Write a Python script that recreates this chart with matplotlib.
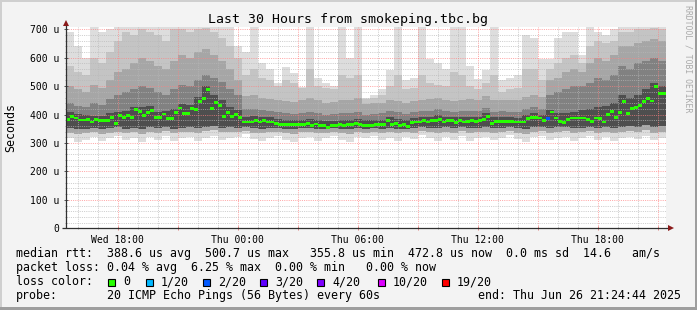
import numpy as np
import matplotlib
matplotlib.use('Agg')
import matplotlib.pyplot as plt
import matplotlib.dates as mdates
from matplotlib.ticker import MultipleLocator, FuncFormatter
from matplotlib.patches import Rectangle
from datetime import datetime

plt.rcParams['font.family'] = 'DejaVu Sans Mono'

# time window
start = datetime(2025, 6, 25, 15, 24, 44)
end = datetime(2025, 6, 26, 21, 24, 44)
med_step_min = 12      # one median step
smoke_step_min = 24    # one smoke column

# median rtt per 12 minute step (microseconds)
median_us = [
    384, 394, 388, 381, 381, 384, 374, 382, 378, 378,
    378, 389, 370, 398, 389, 396, 389, 417, 411, 398,
    408, 414, 391, 391, 402, 386, 386, 406, 423, 403,
    403, 420, 418, 446, 457, 489, 420, 443, 431, 394,
    408, 394, 399, 390, 374, 374, 374, 379, 374, 378,
    374, 374, 370, 366, 366, 366, 365, 365, 366, 366,
    370, 363, 367, 363, 361, 356, 361, 363, 366, 361,
    366, 366, 370, 366, 363, 363, 361, 366, 366, 366,
    379, 366, 370, 363, 366, 357, 371, 374, 374, 378,
    374, 379, 378, 384, 374, 378, 379, 372, 378, 374,
    376, 379, 375, 379, 384, 394, 370, 376, 376, 376,
    376, 376, 374, 374, 374, 385, 390, 390, 388, 379,
    385, 409, 388, 377, 372, 382, 388, 388, 388, 388,
    382, 377, 388, 385, 374, 399, 410, 390, 406, 446,
    405, 421, 424, 431, 445, 458, 448, 500, 473, 473,
]
# steps with packet loss: index -> lost pings of 20
loss_steps = [120]
loss_pings = [2]

# smoke envelopes per 24 minute column (microseconds)
top_us = [
    690, 640, 600, 715, 690, 700, 715, 715, 715, 715,
    715, 715, 715, 715, 715, 715, 715, 715, 715, 715,
    715, 640, 620, 715, 583, 560, 512, 569, 547, 498,
    715, 530, 512, 500, 715, 600, 715, 460, 470, 490,
    558, 715, 523, 530, 715, 594, 580, 560, 715, 715,
    570, 525, 558, 715, 523, 530, 540, 680, 670, 594,
    594, 670, 690, 690, 610, 715, 690, 680, 700, 715,
    715, 715, 715, 715, 715,
]
up2_us = [
    570, 550, 540, 600, 580, 620, 660, 690, 680, 700,
    690, 680, 660, 700, 700, 690, 700, 705, 690, 670,
    640, 600, 540, 560, 530, 520, 500, 520, 510, 495,
    560, 500, 495, 490, 540, 530, 540, 455, 460, 470,
    500, 540, 490, 495, 540, 510, 505, 500, 550, 540,
    500, 490, 510, 540, 480, 490, 495, 560, 560, 520,
    560, 580, 600, 610, 580, 640, 660, 650, 660, 690,
    690, 700, 700, 705, 700,
]
up3_us = [
    500, 490, 480, 505, 495, 520, 550, 560, 580, 600,
    590, 570, 560, 590, 610, 600, 620, 630, 610, 590,
    560, 520, 465, 470, 460, 455, 450, 448, 445, 450,
    460, 450, 442, 445, 450, 452, 460, 438, 440, 442,
    450, 446, 440, 448, 452, 455, 460, 450, 448, 452,
    455, 452, 465, 450, 452, 450, 450, 462, 470, 462,
    520, 530, 550, 560, 550, 580, 600, 590, 610, 640,
    640, 650, 660, 665, 660,
]
up4_us = [
    440, 430, 425, 440, 432, 455, 470, 478, 490, 500,
    495, 480, 470, 490, 505, 500, 520, 540, 530, 515,
    490, 470, 420, 418, 416, 412, 408, 405, 402, 404,
    410, 406, 400, 402, 404, 405, 410, 400, 402, 404,
    412, 408, 402, 410, 412, 414, 418, 412, 410, 412,
    414, 413, 424, 410, 412, 410, 410, 420, 425, 420,
    470, 480, 490, 500, 500, 510, 530, 520, 540, 570,
    560, 580, 590, 600, 590,
]
up5_us = [
    408, 402, 398, 396, 395, 404, 410, 412, 428, 425,
    430, 410, 414, 420, 436, 434, 462, 500, 470, 450,
    425, 415, 392, 394, 392, 390, 384, 382, 380, 381,
    384, 382, 378, 378, 380, 382, 384, 380, 381, 382,
    392, 384, 380, 388, 392, 393, 398, 392, 392, 392,
    393, 393, 406, 390, 391, 391, 389, 398, 404, 400,
    415, 405, 405, 410, 415, 420, 425, 430, 440, 470,
    460, 470, 490, 510, 500,
]
lo1_us = [
    318, 304, 312, 322, 306, 316, 325, 310, 318, 304,
    320, 312, 326, 308, 316, 322, 306, 318, 324, 310,
    316, 322, 330, 314, 306, 318, 324, 312, 302, 316,
    322, 308, 318, 326, 312, 304, 320, 316, 326, 310,
    318, 306, 322, 314, 328, 316, 308, 320, 312, 324,
    306, 318, 322, 310, 316, 328, 314, 304, 320, 326,
    310, 318, 322, 308, 316, 324, 312, 320, 306, 318,
    322, 314, 326, 310, 318,
]
lo2_us = [
    336, 330, 334, 338, 332, 336, 340, 334, 338, 332,
    340, 336, 342, 334, 338, 340, 336, 342, 344, 338,
    340, 338, 342, 336, 334, 338, 340, 336, 332, 338,
    340, 334, 336, 340, 336, 332, 338, 336, 340, 334,
    338, 334, 340, 336, 342, 338, 334, 340, 336, 342,
    334, 338, 340, 336, 338, 342, 336, 332, 340, 342,
    336, 340, 342, 334, 338, 342, 336, 340, 334, 340,
    342, 338, 344, 336, 340,
]
lo3_us = [
    352, 348, 350, 354, 348, 352, 356, 350, 354, 350,
    356, 352, 358, 350, 354, 356, 352, 358, 360, 354,
    356, 354, 356, 352, 350, 352, 354, 350, 348, 352,
    354, 350, 348, 352, 350, 348, 352, 350, 352, 348,
    354, 350, 348, 352, 356, 354, 352, 356, 354, 356,
    352, 354, 356, 352, 354, 356, 352, 350, 356, 358,
    354, 356, 358, 352, 354, 356, 354, 356, 352, 358,
    360, 356, 362, 358, 360,
]

y_ticks = [0, 100, 200, 300, 400, 500, 600, 700]

loss_labels = ['0', '1/20', '2/20', '3/20', '4/20', '10/20', '19/20']
loss_colors = ['#26ff00', '#00b8ff', '#0059ff', '#5e00ff', '#7e00ff', '#dd00ff', '#ff0000']

legend_rows = [
    'median rtt:  388.6 us avg  500.7 us max   355.8 us min  472.8 us now  0.0 ms sd  14.6   am/s',
    'packet loss: 0.04 % avg  6.25 % max  0.00 % min   0.00 % now',
]
probe_text = '20 ICMP Echo Pings (56 Bytes) every 60s'
end_text = 'end: ' + end.strftime('%a %b %d %H:%M:%S %Y')

W, H = 697, 310
fig = plt.figure(figsize=(W / 100, H / 100), dpi=100)
fig.patch.set_facecolor('#f3f3f3')


def fx(px):
    return px / W


def fy(py):
    return 1 - py / H


# plot box in pixels
x0, x1 = 66, 666
y0, y1 = 228.3, 27
ax = fig.add_axes([fx(x0), fy(y0), (x1 - x0) / W, (y0 - y1) / H])
ax.set_facecolor('white')

t0 = mdates.date2num(start)
t1 = mdates.date2num(end)
med = np.array(median_us, dtype=float)
t_med = t0 + np.arange(len(med)) * med_step_min / 1440
t_smoke = t0 + np.arange(len(top_us)) * smoke_step_min / 1440

bands = [
    (lo1_us, top_us, '#dddddd'),
    (lo2_us, up2_us, '#c4c4c4'),
    (lo2_us, up3_us, '#a6a6a6'),
    (lo3_us, up4_us, '#818181'),
    (lo3_us, up5_us, '#4e4e4e'),
]
for lo, hi, col in bands:
    lo = np.array(lo, dtype=float)
    hi = np.array(hi, dtype=float)
    ax.bar(t_smoke, hi - lo, bottom=lo, width=smoke_step_min / 1440, align='edge',
           color=col, linewidth=0, antialiased=False, zorder=1)

seg_colors = [loss_colors[0]] * len(med)
for i, n in zip(loss_steps, loss_pings):
    seg_colors[i] = loss_colors[loss_labels.index('%d/20' % n)]
ax.bar(t_med, 10, bottom=med - 5, width=med_step_min / 1440, align='edge',
       color=seg_colors, linewidth=0, antialiased=False, zorder=4)

ax.set_xlim(t0, t1)
ax.set_ylim(0, 708)

ax.xaxis.set_major_locator(mdates.HourLocator(byhour=range(0, 24, 3)))
ax.xaxis.set_minor_locator(mdates.HourLocator())


def xfmt(v, pos):
    d = mdates.num2date(v)
    return d.strftime('%a %H:%M') if d.hour % 6 == 0 else ''


ax.xaxis.set_major_formatter(FuncFormatter(xfmt))
ax.yaxis.set_major_locator(MultipleLocator(100))
ax.yaxis.set_minor_locator(MultipleLocator(20))
ax.set_yticks(y_ticks)
ax.yaxis.set_major_formatter(FuncFormatter(lambda v, p: '0' if v == 0 else '%d u' % v))

ax.set_axisbelow(False)
ax.grid(which='major', color='#ff8080', alpha=0.7, lw=0.72, ls=(0, (1, 1.2)))
ax.grid(which='minor', color='#b8b8b8', alpha=0.7, lw=0.72, ls=(0, (1, 1.2)))

for s in ax.spines.values():
    s.set_visible(False)

ax.tick_params(axis='both', which='both', labelsize=7, colors='#000000')
ax.tick_params(axis='y', which='major', length=3, width=0.7, color='#555555', direction='inout', pad=3)
ax.tick_params(axis='y', which='minor', length=2, width=0.7, color='#aaaaaa', direction='inout')
ax.tick_params(axis='x', which='major', length=3, width=0.7, color='#e08080', direction='inout', pad=3)
ax.tick_params(axis='x', which='minor', length=2, width=0.7, color='#aaaaaa', direction='inout')

# axis lines with arrow heads
ax.plot([-4 / 600, 1.0 + 3 / 600], [0, 0], transform=ax.transAxes, color='#303030',
        lw=0.9, clip_on=False, zorder=6, solid_capstyle='butt')
ax.plot([0, 0], [0, 1.0 + 3 / 201], transform=ax.transAxes, color='#303030',
        lw=0.9, clip_on=False, zorder=6, solid_capstyle='butt')
ax.plot([0], [1.0 + 4 / 201], marker='^', ms=4.5, color='#8b1a1a', transform=ax.transAxes,
        clip_on=False, zorder=7, mew=0)
ax.plot([1.0 + 5 / 600], [0], marker='>', ms=4.5, color='#8b1a1a', transform=ax.transAxes,
        clip_on=False, zorder=7, mew=0)

# texts
fig.text(fx(348), fy(19), 'Last 30 Hours from smokeping.tbc.bg', ha='center', va='center',
         fontsize=9.5)
fig.text(fx(11), fy(127), 'Seconds', rotation=90, ha='center', va='center', fontsize=8.4)
fig.text(fx(688), fy(59), 'RRDTOOL / TOBI OETIKER', rotation=-90, ha='center', va='center',
         fontsize=5.9, color='#aaaaaa')

lfs = 8.37
fig.text(fx(16), fy(257.3), legend_rows[0], fontsize=lfs, va='baseline')
fig.text(fx(16), fy(271.3), legend_rows[1], fontsize=lfs, va='baseline')
fig.text(fx(16), fy(285.3), 'loss color:', fontsize=lfs, va='baseline')
box_x = [108, 146, 203, 260, 317, 378, 442]
for bx, lab, col in zip(box_x, loss_labels, loss_colors):
    fig.patches.append(Rectangle((fx(bx), fy(286)), 7 / W, 7 / H, transform=fig.transFigure,
                                 facecolor=col, edgecolor='black', lw=0.8))
    fig.text(fx(bx + 15), fy(285.3), lab, fontsize=lfs, va='baseline')
fig.text(fx(16), fy(299.3), 'probe:', fontsize=lfs, va='baseline')
fig.text(fx(107), fy(299.3), probe_text, fontsize=lfs, va='baseline')
fig.text(fx(478), fy(299.3), end_text, fontsize=lfs, va='baseline')

# 3d frame
fig.patches.append(Rectangle((0, 0), 2 / W, 1, transform=fig.transFigure, color='#cfcfcf', lw=0))
fig.patches.append(Rectangle((0, 1 - 2 / H), 1, 2 / H, transform=fig.transFigure, color='#cfcfcf', lw=0))
fig.patches.append(Rectangle((1 - 2 / W, 0), 2 / W, 1, transform=fig.transFigure, color='#9e9e9e', lw=0))
fig.patches.append(Rectangle((0, 0), 1, 3 / H, transform=fig.transFigure, color='#9e9e9e', lw=0))

fig.savefig('out.png', dpi=100, facecolor=fig.get_facecolor())
